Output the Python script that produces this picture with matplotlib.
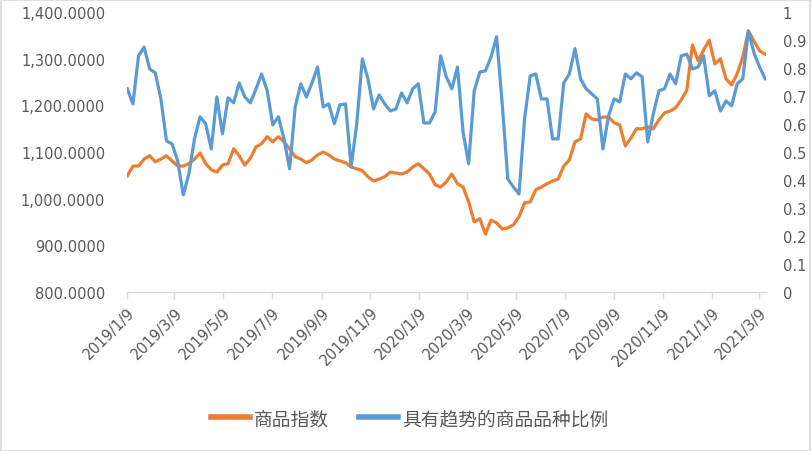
import numpy as np
import pandas as pd
import matplotlib
matplotlib.use("Agg")
import matplotlib.pyplot as plt
from matplotlib.ticker import FuncFormatter, MultipleLocator

# weekly samples
dates = pd.date_range("2019-01-09", periods=115, freq="7D")

index_vals = [
    1049, 1070, 1070, 1085, 1092, 1079, 1085, 1092, 1081, 1070,
    1070, 1075, 1085, 1098, 1075, 1062, 1057, 1072, 1075, 1107,
    1092, 1072, 1087, 1111, 1118, 1133, 1122, 1133, 1122, 1107,
    1090, 1085, 1077, 1083, 1094, 1100, 1094, 1085, 1081, 1077,
    1068, 1064, 1060, 1047, 1038, 1042, 1047, 1057, 1055, 1053,
    1057, 1068, 1075, 1064, 1053, 1030, 1025, 1036, 1053, 1032,
    1025, 993, 950, 957, 924, 954, 948, 935, 937, 944,
    961, 991, 993, 1019, 1025, 1032, 1038, 1042, 1070, 1083,
    1122, 1128, 1182, 1171, 1169, 1175, 1175, 1163, 1158, 1113,
    1130, 1150, 1150, 1154, 1150, 1169, 1184, 1188, 1195, 1212,
    1233, 1330, 1296, 1319, 1340, 1289, 1300, 1257, 1244, 1268,
    1304, 1360, 1338, 1317, 1310,
]

trend_ratio = [
    0.726, 0.672, 0.844, 0.875, 0.797, 0.783, 0.690, 0.540, 0.529, 0.468,
    0.347, 0.422, 0.547, 0.626, 0.601, 0.511, 0.697, 0.565, 0.694, 0.676,
    0.747, 0.697, 0.676, 0.726, 0.779, 0.719, 0.597, 0.626, 0.547, 0.440,
    0.661, 0.744, 0.697, 0.747, 0.804, 0.661, 0.672, 0.601, 0.669, 0.672,
    0.447, 0.601, 0.833, 0.762, 0.654, 0.704, 0.672, 0.647, 0.654, 0.711,
    0.676, 0.726, 0.744, 0.604, 0.604, 0.643, 0.844, 0.769, 0.726, 0.804,
    0.572, 0.458, 0.719, 0.786, 0.790, 0.840, 0.912, 0.672, 0.404, 0.375,
    0.350, 0.619, 0.772, 0.779, 0.690, 0.690, 0.547, 0.547, 0.747, 0.779,
    0.870, 0.762, 0.726, 0.708, 0.690, 0.511, 0.629, 0.690, 0.679, 0.779,
    0.762, 0.783, 0.769, 0.536, 0.636, 0.719, 0.726, 0.779, 0.744, 0.844,
    0.850, 0.797, 0.804, 0.844, 0.701, 0.719, 0.647, 0.683, 0.665, 0.744,
    0.762, 0.933, 0.854, 0.804, 0.762,
]

tick_dates = pd.date_range("2019-01-01", "2021-03-01", freq="2MS") + pd.Timedelta(days=8)
tick_labels = [f"{d.year}/{d.month}/{d.day}" for d in tick_dates]

orange = "#ED7D31"
blue = "#5B9BD5"
txt = "#595959"
grid_c = "#D9D9D9"

fig = plt.figure(figsize=(8.11, 4.52), dpi=100)
ax = fig.add_axes([0.157, 0.352, 0.7875, 0.6188])
ax2 = ax.twinx()

l1, = ax.plot(dates, index_vals, color=orange, lw=2.3, label="商品指数")
l2, = ax2.plot(dates, trend_ratio, color=blue, lw=2.3, label="具有趋势的商品品种比例")

ax.set_ylim(800, 1400)
ax.yaxis.set_major_locator(MultipleLocator(100))
ax.yaxis.set_major_formatter(FuncFormatter(lambda v, p: f"{v:,.4f}"))
ax2.set_ylim(0, 1)
ax2.yaxis.set_major_locator(MultipleLocator(0.1))
ax2.yaxis.set_major_formatter(FuncFormatter(lambda v, p: f"{v:.1f}".rstrip("0").rstrip(".") if v else "0"))

ax.set_xlim(dates[0], dates[-1] + pd.Timedelta(days=1))
ax.set_xticks(tick_dates)
ax.set_xticklabels(tick_labels, rotation=45, ha="right", rotation_mode="anchor")

for a in (ax, ax2):
    for s in ("top", "left", "right", "bottom"):
        a.spines[s].set_visible(False)
ax.spines["bottom"].set_visible(True)
ax.spines["bottom"].set_color(grid_c)

ax.tick_params(axis="x", colors=grid_c, length=5, width=1, labelcolor=txt, labelsize=10.5, pad=4)
ax.tick_params(axis="y", length=0, labelcolor=txt, labelsize=10.5, pad=16)
ax2.tick_params(axis="y", length=0, labelcolor=txt, labelsize=10.5, pad=12)

leg = fig.legend([l1, l2], [l1.get_label(), l2.get_label()], loc="center",
                 bbox_to_anchor=(0.505, 0.072), ncol=2, frameon=False,
                 prop={"family": ["Noto Sans CJK SC", "DejaVu Sans"], "size": 13.5},
                 handlelength=2.1, handletextpad=0.2, columnspacing=1.6)
for t in leg.get_texts():
    t.set_color(txt)
for h in leg.get_lines():
    h.set_linewidth(4)

fig.patches.append(plt.Rectangle((0.001, 0.001), 0.998, 0.997, transform=fig.transFigure,
                                 fill=False, edgecolor=grid_c, lw=1.2))

fig.savefig("out.png", dpi=100)
